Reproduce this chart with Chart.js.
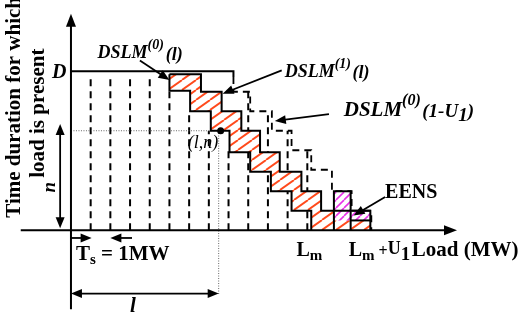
<!DOCTYPE html>
<html>
<head>
<meta charset="utf-8">
<script src="https://cdn.jsdelivr.net/npm/chart.js@4/dist/chart.umd.min.js"></script>
<style>
  html, body { margin: 0; background: #fff; }
  #wrap { width: 526px; height: 319px; }
</style>
</head>
<body>
<div id="wrap"><canvas id="c"></canvas></div>
<script>
// Load in MW steps (x), time units (y). Each staircase: start x, drop positions, levels.
const D = 8.15;
const lowerStart = 5;
const lowerDrops = [5, 6.05, 7.1, 8.05, 9.1, 10.15, 11.2, 12.2];
const lowerLevels = [8, 7.15, 6.1, 5.1, 4, 3, 2, 1, 0];
const upperStart = 5;
const upperDrops = [6.6, 7.65, 8.65, 9.6, 10.6, 11.7, 12.7, 15.2];
const upperLevels = [8, 7.1, 6.1, 5.1, 4, 3, 2, 1, 0];
const shiftStart = 8.25;
const shiftDrops = [8.25, 9.1, 10.2, 11.2, 12.2, 13.25, 14.25, 15.25];
const shiftLevels = [7.85, 7.1, 6.1, 5.1, 4.1, 3.1, 2, 1, 0];
// dashed 1MW slices
const gridX = [1, 2, 3, 4, 5, 6, 7, 8, 9, 10, 11, 12];
const gridTop = [7.95, 7.95, 7.95, 7.95, 7.1, 6.1, 5.1, 4.1, 7.1, 6.1, 5.1, 4.1];
// EENS area (x, top) and its bottom
const eensX = [13.35, 14.2, 15.2];
const eensTop = [2, 1];
const eensBottom = 0.5;
const lValue = 7.5, nValue = 5.1;
const pointLN = [7.6, 5.1];
const Lm = 12.2, LmU1 = 15.2;

const stairs = (x0, drops, levels) => {
  const pts = [{ x: x0, y: levels[0] }];
  drops.forEach((d, i) => { pts.push({ x: d, y: levels[i] }, { x: d, y: levels[i + 1] }); });
  return pts;
};

function hatch(color, w, h, lw) {
  const c = document.createElement('canvas');
  c.width = w; c.height = h;
  const g = c.getContext('2d');
  g.fillStyle = '#fff'; g.fillRect(0, 0, w, h);
  g.strokeStyle = color; g.lineWidth = lw;
  for (let k = -1; k <= 1; k++) {
    g.beginPath(); g.moveTo(k * w, h); g.lineTo(k * w + w, 0); g.stroke();
  }
  return g.createPattern(c, 'repeat');
}

const lower = stairs(lowerStart, lowerDrops, lowerLevels);
const upper = stairs(upperStart, upperDrops, upperLevels);
const shifted = stairs(shiftStart, shiftDrops, shiftLevels);
const band = upper.concat(lower.slice().reverse());
const eens = [
  { x: eensX[0], y: eensBottom }, { x: eensX[0], y: eensTop[0] }, { x: eensX[1], y: eensTop[0] },
  { x: eensX[1], y: eensTop[1] }, { x: eensX[2], y: eensTop[1] }, { x: eensX[2], y: eensBottom },
];
const grid = [];
gridX.forEach((x, i) => grid.push({ x, y: 0 }, { x, y: gridTop[i] }, { x, y: null }));

const SERIF = '"Liberation Serif", "Times New Roman", serif';
const line = (data, extra) => Object.assign({
  data, showLine: true, pointRadius: 0, borderColor: '#000', borderWidth: 2, fill: false, order: 1,
}, extra);

const datasets = [
  line(grid, { borderWidth: 2, borderDash: [7, 5], order: 10 }),
  line(band, { borderWidth: 0, fill: 'shape', backgroundColor: hatch('#ff4a1c', 14, 10, 1.9), order: 6 }),
  line(eens, { borderWidth: 0, fill: 'shape', backgroundColor: hatch('#e832e8', 8, 8, 1.6), order: 5 }),
  line(shifted, { borderDash: [7, 5], borderWidth: 1.8, order: 3 }),
  line(lower),
  line(upper),
  line([{ x: 0, y: D }, { x: shiftStart, y: D }, { x: shiftStart, y: shiftLevels[0] }]),
  line([{ x: eensX[0], y: 0 }, { x: eensX[0], y: eensTop[0] }, { x: eensX[1], y: eensTop[0] }, { x: eensX[1], y: 0 }]),
  line([{ x: eensX[1], y: eensBottom }, { x: eensX[2], y: eensBottom }]),
  line([{ x: 0, y: nValue }, { x: lValue, y: nValue }, { x: lValue, y: -3.3 }],
    { borderWidth: 1, borderColor: '#666', borderDash: [1, 1.5] }),
  { data: [{ x: pointLN[0], y: pointLN[1] }], pointRadius: 3.5, pointBackgroundColor: '#000', borderWidth: 0, order: 0 },
];

// annotation arrows and texts, in data coordinates
const arrows = [
  { from: [3.5, 8.7], to: [5.0, 7.7] },
  { from: [10.7, 8.2], to: [7.7, 7.0] },
  { from: [13.1, 5.95], to: [10.35, 5.6] },
  { from: [15.95, 1.7], to: [14.35, 0.75] },
  { from: [-0.55, 0.1], to: [-0.55, 5.45], both: true },
  { from: [0, -3.25], to: [lValue, -3.25], both: true },
  { from: [0, -0.4], to: [1.05, -0.4] },
  { from: [3.1, -0.4], to: [2.0, -0.4] },
];
const B = 'bold ', BI = 'italic bold ', I = 'italic ';
const texts = [
  { at: [1.35, 8.85], parts: [['DSLM', 18, 0, BI], ['(0)', 14, -9, BI], [' ', 7, 0, BI], ['(l)', 18, 2, BI]] },
  { at: [10.85, 7.85], parts: [['DSLM', 18, 0, BI], ['(1)', 14, -9, BI], [' ', 6, 0, BI], ['(l)', 18, 1, BI]] },
  { at: [13.85, 5.85], parts: [['DSLM', 21, 0, BI], ['(0)', 16, -11, BI], [' ', 6, 0, BI], ['(1-U', 19, 1, BI], ['1', 19, 5, BI], [')', 19, 1, BI]] },
  { at: [15.95, 1.65], parts: [['EENS', 20, 0, B]] },
  { at: [-0.6, D], parts: [['D', 20, 7, BI]], align: 'center' },
  { at: [6.7, 4.2], parts: [['(', 18, 0, I], ['l', 18, 0, I], [',n)', 18, 0, I]], align: 'center' },
  { at: [-1.05, 2.2], parts: [['n', 19, 5, BI]], align: 'center', rot: true },
  { at: [3.15, -3.95], parts: [['l', 21, 5, BI]], align: 'center' },
  { at: [0.25, -1.55], parts: [['T', 21, 0, B], ['s', 15, 4, B], [' = 1MW', 21, 0, B]] },
  { at: [Lm - 0.75, -1.3], parts: [['L', 20, 0, B], ['m', 15, 4, B]] },
  { at: [LmU1 - 1.1, -1.3], parts: [['L', 20, 0, B], ['m', 15, 4, B], [' +', 16, 0, B], ['U', 18, -2, B], ['1', 19, 4, B]] },
  { at: [17.3, -1.3], parts: [['Load (MW)', 21, 0, B]] },
  { at: [-2.95, 6.3], parts: [['Time duration for which', 21, 7, B]], align: 'center', rot: true },
  { at: [-1.7, 6.0], parts: [['load is present', 21, 7, B]], align: 'center', rot: true },
];

function arrowHead(ctx, x1, y1, x2, y2, len, half) {
  const a = Math.atan2(y2 - y1, x2 - x1);
  ctx.beginPath();
  ctx.moveTo(x2, y2);
  ctx.lineTo(x2 - len * Math.cos(a) + half * Math.sin(a), y2 - len * Math.sin(a) - half * Math.cos(a));
  ctx.lineTo(x2 - len * Math.cos(a) - half * Math.sin(a), y2 - len * Math.sin(a) + half * Math.cos(a));
  ctx.closePath(); ctx.fill();
}

function arrow(ctx, p1, p2, both, lw, len, half) {
  ctx.lineWidth = lw;
  const a = Math.atan2(p2[1] - p1[1], p2[0] - p1[0]);
  const s = both ? [p1[0] + len * 0.6 * Math.cos(a), p1[1] + len * 0.6 * Math.sin(a)] : p1;
  const e = [p2[0] - len * 0.6 * Math.cos(a), p2[1] - len * 0.6 * Math.sin(a)];
  ctx.beginPath(); ctx.moveTo(s[0], s[1]); ctx.lineTo(e[0], e[1]); ctx.stroke();
  arrowHead(ctx, p1[0], p1[1], p2[0], p2[1], len, half);
  if (both) arrowHead(ctx, p2[0], p2[1], p1[0], p1[1], len, half);
}

function rich(ctx, x, y, parts, align) {
  const fnt = p => `${p[3]}${p[1]}px ${SERIF}`;
  let w = 0;
  parts.forEach(p => { ctx.font = fnt(p); w += ctx.measureText(p[0]).width; });
  let cx = align === 'center' ? x - w / 2 : x;
  parts.forEach(p => { ctx.font = fnt(p); ctx.fillText(p[0], cx, y + p[2]); cx += ctx.measureText(p[0]).width; });
}

const annotate = {
  id: 'annotate',
  afterDraw(chart) {
    const { ctx, scales: { x, y } } = chart;
    const px = p => [x.getPixelForValue(p[0]), y.getPixelForValue(p[1])];
    ctx.save();
    ctx.strokeStyle = '#000'; ctx.fillStyle = '#000';
    // axes
    arrow(ctx, px([0, -4.05]), px([0, 11.1]), false, 2, 13, 5);
    arrow(ctx, px([-2.55, 0]), px([19.6, 0]), false, 2, 13, 5);
    arrows.forEach(a => arrow(ctx, px(a.from), px(a.to), a.both, 1.8, 11, 4.5));
    ctx.textBaseline = 'alphabetic';
    texts.forEach(t => {
      const [tx, ty] = px(t.at);
      if (t.rot) {
        ctx.save(); ctx.translate(tx, ty); ctx.rotate(-Math.PI / 2);
        rich(ctx, 0, 0, t.parts, t.align);
        ctx.restore();
      } else {
        rich(ctx, tx, ty, t.parts, t.align);
      }
    });
    ctx.restore();
  },
};

new Chart(document.getElementById('c'), {
  type: 'scatter',
  data: { datasets },
  options: {
    responsive: true,
    maintainAspectRatio: false,
    animation: false,
    layout: { padding: 0 },
    plugins: { legend: { display: false }, tooltip: { enabled: false } },
    elements: { line: { tension: 0 } },
    scales: {
      x: { type: 'linear', display: false, min: -3.4, max: 22.9 },
      y: { type: 'linear', display: false, min: -4.35, max: 11.6 },
    },
  },
  plugins: [annotate],
});
</script>
</body>
</html>
